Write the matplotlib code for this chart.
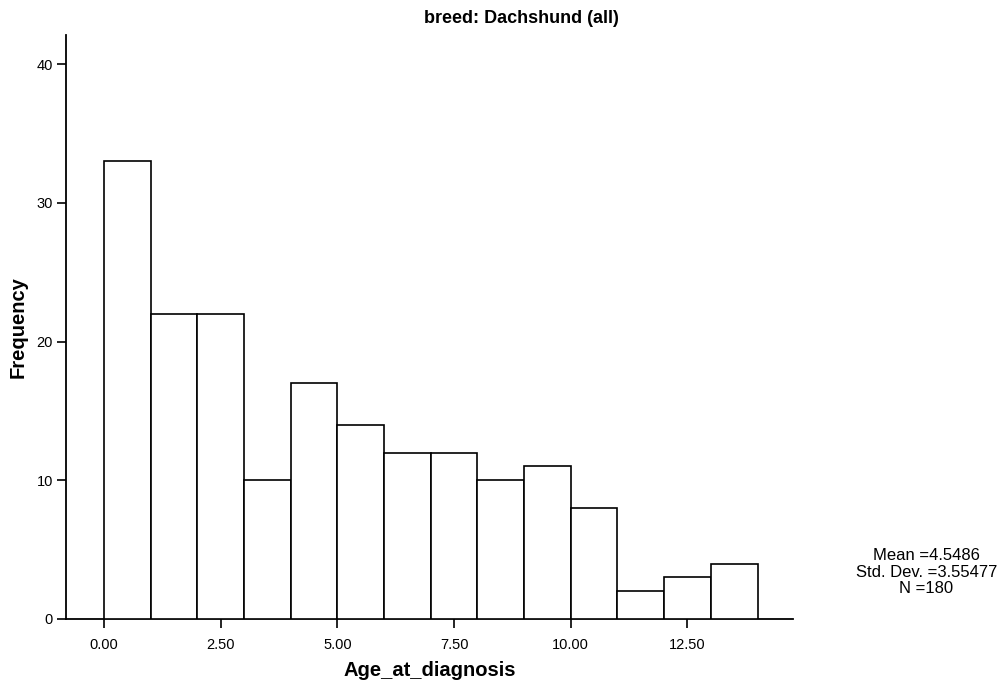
import matplotlib
matplotlib.use("Agg")
import matplotlib.pyplot as plt

plt.rcParams['font.family'] = ['Liberation Sans', 'DejaVu Sans']

# histogram of Age_at_diagnosis, bins of width 1 year
bin_left = [0, 1, 2, 3, 4, 5, 6, 7, 8, 9, 10, 11, 12, 13]
counts = [33, 22, 22, 10, 17, 14, 12, 12, 10, 11, 8, 2, 3, 4]
xticks = [0.0, 2.5, 5.0, 7.5, 10.0, 12.5]
yticks = [0, 10, 20, 30, 40]
stats_lines = ["Mean =4.5486", "Std. Dev. =3.55477", "N =180"]

fig = plt.figure(figsize=(10.06, 6.86), dpi=100)
ax = fig.add_axes([0.0656, 0.0977, 0.7227, 0.851])

ax.bar(bin_left, counts, width=1.0, align='edge', facecolor='white',
       edgecolor='black', linewidth=1.2, zorder=3)

ax.set_xlim(-0.81, 14.76)
ax.set_ylim(0, 42.1)
ax.set_xticks(xticks)
ax.set_xticklabels(["%.2f" % t for t in xticks], fontsize=10.5)
ax.set_yticks(yticks)
ax.set_yticklabels([str(t) for t in yticks], fontsize=10.5)
ax.tick_params(axis='y', direction='out', length=6.5, width=1.2, pad=3)
ax.tick_params(axis='x', direction='out', length=6.5, width=1.2, pad=7)

for s in ['top', 'right']:
    ax.spines[s].set_visible(False)
for s in ['left', 'bottom']:
    ax.spines[s].set_linewidth(1.3)

ax.set_xlabel("Age_at_diagnosis", fontsize=14.5, fontweight='bold', labelpad=7)
ax.set_ylabel("Frequency", fontsize=14.5, fontweight='bold', labelpad=6)

fig.text(0.518, 0.973, "breed: Dachshund (all)", ha='center', va='center',
         fontsize=13, fontweight='bold')

fig.text(0.921, 0.166, "\n".join(stats_lines), ha='center', va='center',
         fontsize=12, linespacing=1.1)

fig.savefig("out.png", dpi=100)
